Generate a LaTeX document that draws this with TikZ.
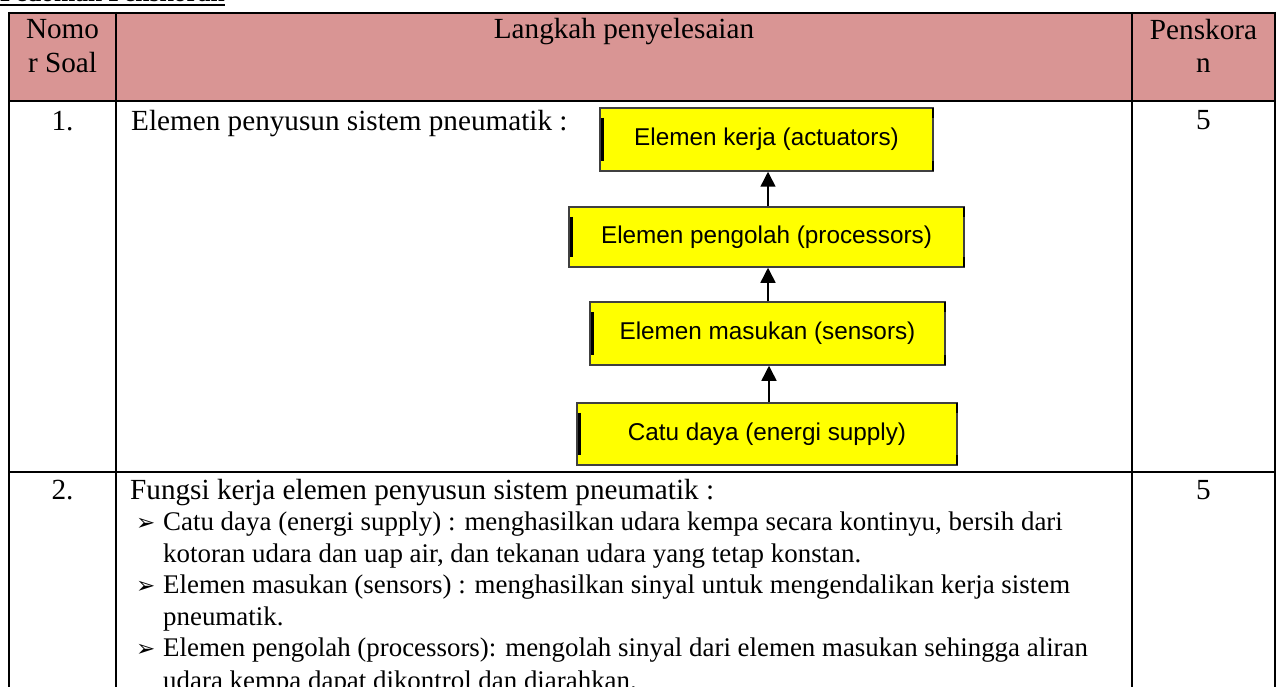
\documentclass[tikz,border=0pt]{standalone}
\usepackage{fontspec}
\setmainfont{Liberation Serif}
\newfontfamily\arialf{Liberation Sans}
\newfontfamily\symf{DejaVu Sans}
\usetikzlibrary{arrows.meta}
\definecolor{hdr}{HTML}{D99594}
\definecolor{boxyel}{HTML}{FFFF00}
\definecolor{boxedge}{HTML}{404040}
\begin{document}
\begin{tikzpicture}[x=1pt,y=-1pt,
  txt/.style={inner sep=0pt, anchor=base west, font=\fontsize{29.2}{33}\selectfont},
  ctxt/.style={txt, anchor=base},
  ltxt/.style={inner sep=0pt, anchor=base west, font=\fontsize{26.9}{31}\selectfont},
  bul/.style={inner sep=0pt, anchor=base west, font=\symf\fontsize{23}{23}\selectfont},
  ttl/.style={inner sep=0pt, anchor=base west, font=\bfseries\fontsize{25.5}{28}\selectfont},
  flowbox/.style={draw=boxedge, line width=1.5pt, fill=boxyel, inner sep=0pt,
    font=\arialf\fontsize{24.3}{28}\selectfont},
  gridline/.style={line width=2pt, black},
  flowarrow/.style={-{Triangle[length=15pt,width=15pt]}, line width=1.5pt}]
\useasboundingbox (0,0) rectangle (1276,687);
\clip (0,0) rectangle (1276,687);
% title (clipped at top)
\node[ttl] (title) at (0,2) {Pedoman Penskoran};
\draw[line width=2pt] ([yshift=-3pt]title.base west) -- ([yshift=-3pt]title.base east);
% table
\fill[hdr] (9,13) rectangle (1275,101);
\draw[gridline] (9,13) -- (1275,13);
\draw[gridline] (9,101) -- (1275,101);
\draw[gridline] (9,472) -- (1275,472);
\draw[gridline] (9,12) -- (9,700);
\draw[gridline] (116,12) -- (116,700);
\draw[gridline] (1132,12) -- (1132,700);
\draw[gridline] (1275,12) -- (1275,700);
% header
\node[ctxt] (h1a) at (62.5,39) {Nomo};
\node[ctxt] (h1b) at (62.5,73) {r Soal};
\node[ctxt] (h2) at (624,39) {Langkah penyelesaian};
\node[ctxt] (h3a) at (1203.5,40) {Penskora};
\node[ctxt] (h3b) at (1203.5,73) {n};
% row 1
\node[ctxt] (n1) at (62.5,131) {1.};
\node[txt] (t1) at (131,131) {Elemen penyusun sistem pneumatik :};
\node[ctxt] (s1) at (1203.5,130) {5};
\node[flowbox, minimum width=333pt, minimum height=63pt] (b1) at (766.5,139.5) {Elemen kerja (actuators)};
\node[flowbox, minimum width=395pt, minimum height=60pt] (b2) at (766.5,237) {Elemen pengolah (processors)};
\node[flowbox, minimum width=355pt, minimum height=63pt] (b3) at (767.5,333.5) {Elemen masukan (sensors)};
\node[flowbox, minimum width=380pt, minimum height=62pt] (b4) at (767,434) {Catu daya (energi supply)};
\foreach \b in {b1,b2,b3,b4}{
  \draw[line width=3pt] ([xshift=3pt,yshift=-10.5pt]\b.north west) -- ([xshift=3pt,yshift=10.5pt]\b.south west);
  \draw[line width=1.5pt] ([xshift=-1pt,yshift=-1pt]\b.north east) -- ([xshift=-1pt,yshift=-11pt]\b.north east);
  \draw[line width=1.5pt] ([xshift=-1pt,yshift=1pt]\b.south east) -- ([xshift=-1pt,yshift=11pt]\b.south east);
}
\draw[flowarrow] ([xshift=1.5pt]b2.north) -- ([xshift=1.5pt]b1.south);
\draw[flowarrow] ([xshift=1.5pt]b3.north -| b2.south) -- ([xshift=1.5pt]b2.south);
\draw[flowarrow] ([xshift=1.5pt]b4.north -| b3.south) -- ([xshift=1.5pt]b3.south);
% row 2
\node[ctxt] (n2) at (62.5,499) {2.};
\node[txt] (t2) at (130,499) {Fungsi kerja elemen penyusun sistem pneumatik :};
\node[ctxt] (s2) at (1203.5,499) {5};
\node[bul] (k1) at (136,530.5) {➢};
\node[ltxt] (l1) at (163,530.5) {Catu daya (energi supply) : menghasilkan udara kempa secara kontinyu, bersih dari};
\node[ltxt] (l2) at (163,562) {kotoran udara dan uap air, dan tekanan udara yang tetap konstan.};
\node[bul] (k2) at (136,593.5) {➢};
\node[ltxt] (l3) at (163,593.5) {Elemen masukan (sensors) : menghasilkan sinyal untuk mengendalikan kerja sistem};
\node[ltxt] (l4) at (163,625) {pneumatik.};
\node[bul] (k3) at (136,656.5) {➢};
\node[ltxt] (l5) at (163,656.5) {Elemen pengolah (processors): mengolah sinyal dari elemen masukan sehingga aliran};
\node[ltxt] (l6) at (163,689) {udara kempa dapat dikontrol dan diarahkan.};
\end{tikzpicture}
\end{document}
